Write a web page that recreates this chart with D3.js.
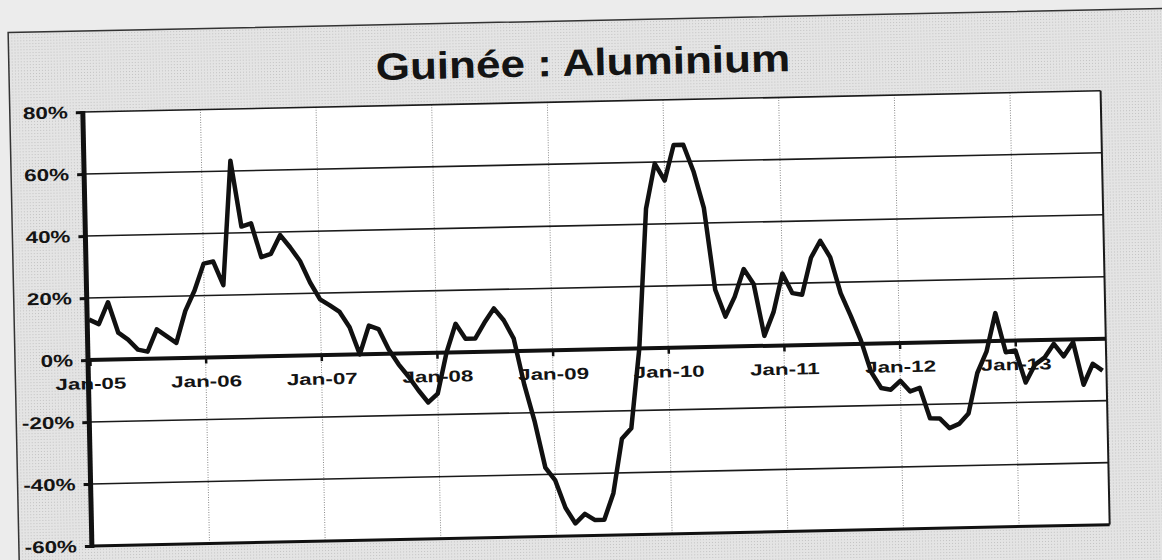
<!DOCTYPE html>
<html lang="fr">
<head>
<meta charset="UTF-8">
<title>Guinée : Aluminium</title>
<script src="https://d3js.org/d3.v7.min.js"></script>
<style>
  html, body { margin: 0; padding: 0; background: #e9e9e9; }
  svg { display: block; }
  text { font-family: "Liberation Sans", Arial, sans-serif; font-weight: bold; fill: #141414; }
</style>
</head>
<body>
<script>
  // ---- data ----
  const chartTitle = "Guinée : Aluminium";
  const yearLabels = ["Jan-05", "Jan-06", "Jan-07", "Jan-08", "Jan-09", "Jan-10", "Jan-11", "Jan-12", "Jan-13"];
  const yTicks = [-0.6, -0.4, -0.2, 0, 0.2, 0.4, 0.6, 0.8];
  // monthly growth (%), Jan-05 .. Oct-13
  const growth = [
    13, 11.5, 18.5, 8.6, 6.3, 3, 2.3, 9.4, 7.2, 4.9,
    15.2, 21.7, 30.3, 30.9, 23.2, 63.3, 42, 43, 32, 33,
    39, 35, 30.5, 23.5, 18, 16, 13.8, 8.8, 0, 9.2,
    8, 1.4, -3.5, -7.5, -12, -16, -13.2, 0, 9.2, 4.3,
    4.3, 9.4, 13.9, 10, 4, -11, -23, -37.8, -42, -50.9,
    -56, -53, -55, -55, -46.5, -29, -25.7, 0, 45, 59.5,
    54, 65.4, 65.4, 56.8, 44.9, 18.4, 9.7, 16, 24.9, 20,
    3.2, 10.8, 23.2, 16.8, 16.2, 28.1, 33.5, 28.1, 16.5, 9.1,
    1.1, -9.2, -14.4, -15, -12.2, -15.7, -14.6, -24.5, -24.6, -27.8,
    -26.5, -23.2, -10.2, -3.4, 9, -3.7, -3.2, -13.6, -7.9, -5.7,
    -1.3, -5.4, -0.9, -14.7, -8, -10.3
  ];

  const W = 1162, H = 560;
  const plotLeft = 88, plotTop = 112;
  const width = 1018, height = 434;
  const tilt = -1.2;          // the scan is slightly rotated
  const yTxtScale = 1.32;     // scanned glyphs are wider than plain Arial
  const xTxtScale = 1.4;

  const svg = d3.select("body").append("svg")
      .attr("width", W)
      .attr("height", H);

  // halftone-ish scan background
  const defs = svg.append("defs");
  const pat = defs.append("pattern")
      .attr("id", "halftone")
      .attr("width", 3).attr("height", 3)
      .attr("patternUnits", "userSpaceOnUse");
  pat.append("rect").attr("width", 3).attr("height", 3).attr("fill", "#e4e4e4");
  pat.append("rect").attr("width", 1).attr("height", 1).attr("fill", "#c2c2c2");

  svg.append("rect").attr("width", W).attr("height", H).attr("fill", "#ececec");

  const page = svg.append("g")
      .attr("transform", `rotate(${tilt},${plotLeft},${plotTop + 248})`);

  page.append("rect")
      .attr("x", 15).attr("y", 31)
      .attr("width", 1200).attr("height", 600)
      .attr("fill", "url(#halftone)")
      .attr("stroke", "#333")
      .attr("stroke-width", 1.5);

  page.append("text")
      .attr("text-anchor", "middle")
      .attr("transform", `translate(589,86) scale(1.16,1)`)
      .style("font-size", "38px")
      .text(chartTitle);

  const g = page.append("g")
      .attr("transform", `translate(${plotLeft},${plotTop})`);

  const x = d3.scaleLinear()
      .domain([-0.2, growth.length - 0.6])
      .range([0, width]);

  const y = d3.scaleLinear()
      .domain([-0.6, 0.8])
      .range([height, 0]);

  g.append("rect")
      .attr("width", width).attr("height", height)
      .attr("fill", "#fff");

  // vertical gridlines (dotted, light)
  const janIdx = yearLabels.map((d, i) => i * 12);
  g.append("g")
    .selectAll("line")
    .data(janIdx.slice(1))
    .join("line")
      .attr("x1", d => x(d)).attr("x2", d => x(d))
      .attr("y1", 0).attr("y2", height)
      .attr("stroke", "#8a8a8a")
      .attr("stroke-width", 1)
      .attr("stroke-dasharray", "1,1.5");

  // horizontal gridlines
  g.append("g")
    .selectAll("line")
    .data(yTicks.filter(d => d !== 0 && d !== -0.6))
    .join("line")
      .attr("x1", 0).attr("x2", width)
      .attr("y1", d => y(d)).attr("y2", d => y(d))
      .attr("stroke", "#1a1a1a")
      .attr("stroke-width", 1.6);

  // plot frame: right + bottom
  g.append("line")
      .attr("x1", width).attr("x2", width)
      .attr("y1", 0).attr("y2", height)
      .attr("stroke", "#1a1a1a").attr("stroke-width", 2);
  g.append("line")
      .attr("x1", 0).attr("x2", width)
      .attr("y1", height).attr("y2", height)
      .attr("stroke", "#111").attr("stroke-width", 3);

  // y axis
  const yAxis = g.append("g")
      .call(d3.axisLeft(y)
        .tickValues(yTicks)
        .tickSize(7)
        .tickFormat(d => Math.round(d * 100) + "%"));
  yAxis.select(".domain").remove();
  yAxis.selectAll(".tick line").attr("stroke", "#111").attr("stroke-width", 3);
  yAxis.selectAll(".tick text")
      .attr("x", -15 / yTxtScale)
      .attr("transform", `scale(${yTxtScale},1)`)
      .style("font-size", "17px");

  // x axis sitting on the 0% line
  const xAxis = g.append("g")
      .attr("transform", `translate(0,${y(0)})`)
      .call(d3.axisBottom(x)
        .tickValues(janIdx)
        .tickSize(6)
        .tickFormat((d, i) => yearLabels[i]));
  xAxis.select(".domain").remove();
  xAxis.selectAll(".tick line").attr("stroke", "#111").attr("stroke-width", 2.5);
  xAxis.selectAll(".tick text")
      .attr("y", 18)
      .attr("transform", `scale(${xTxtScale},1)`)
      .style("font-size", "16px");

  g.append("line")
      .attr("x1", 0).attr("x2", width)
      .attr("y1", y(0)).attr("y2", y(0))
      .attr("stroke", "#111").attr("stroke-width", 4);

  // thick left axis line
  g.append("line")
      .attr("x1", 0).attr("x2", 0)
      .attr("y1", -1).attr("y2", height + 2)
      .attr("stroke", "#111").attr("stroke-width", 5);

  // series
  const line = d3.line()
      .x((d, i) => x(i))
      .y(d => y(d / 100));

  g.append("path")
      .datum(growth)
      .attr("d", line)
      .attr("fill", "none")
      .attr("stroke", "#111")
      .attr("stroke-width", 4.5)
      .attr("stroke-linejoin", "round");
</script>
</body>
</html>
